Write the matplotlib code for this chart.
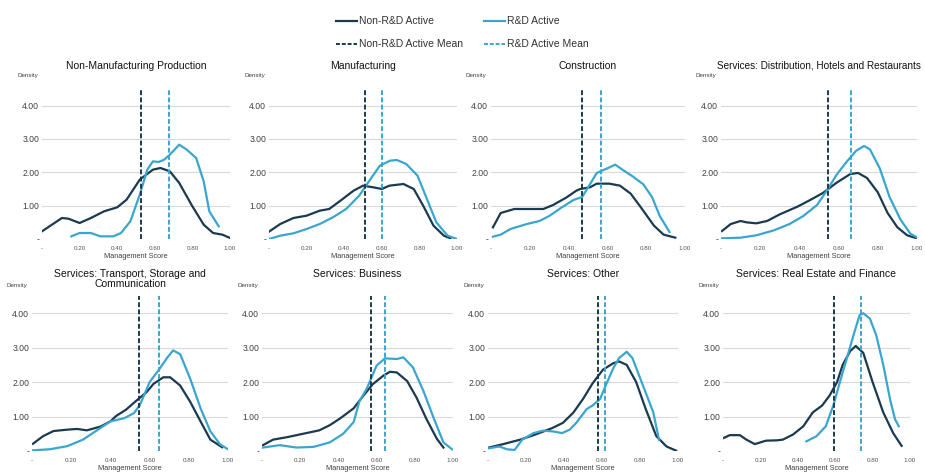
import matplotlib
matplotlib.use("Agg")
import matplotlib.pyplot as plt
from matplotlib.lines import Line2D

plt.rcParams['font.family'] = ['Liberation Sans', 'DejaVu Sans']

DARK = "#1b3a4f"
LIGHT = "#3aa6cf"

titles = [
    "Non-Manufacturing Production",
    "Manufacturing",
    "Construction",
    "Services: Distribution, Hotels and Restaurants",
    "Services: Transport, Storage and\nCommunication",
    "Services: Business",
    "Services: Other",
    "Services: Real Estate and Finance",
]

# Non-R&D active density curves (x, y)
nonrd_x = [
    [0, 0.106, 0.14, 0.2, 0.26, 0.33, 0.4, 0.45, 0.52, 0.59, 0.63, 0.68, 0.73, 0.8, 0.86, 0.91, 0.96, 1.0],
    [0, 0.06, 0.13, 0.2, 0.27, 0.32, 0.38, 0.45, 0.5, 0.555, 0.6, 0.64, 0.715, 0.77, 0.82, 0.875, 0.93, 0.965],
    [0.01, 0.05, 0.12, 0.185, 0.27, 0.32, 0.39, 0.44, 0.46, 0.51, 0.545, 0.61, 0.665, 0.72, 0.77, 0.84, 0.89, 0.95],
    [0.005, 0.05, 0.1, 0.13, 0.18, 0.235, 0.3, 0.39, 0.455, 0.52, 0.59, 0.66, 0.7, 0.745, 0.8, 0.85, 0.9, 0.95, 1.0],
    [0.005, 0.056, 0.11, 0.18, 0.23, 0.28, 0.35, 0.4, 0.43, 0.48, 0.53, 0.585, 0.62, 0.67, 0.705, 0.756, 0.807, 0.86, 0.91, 0.97],
    [0.005, 0.058, 0.13, 0.215, 0.3, 0.355, 0.41, 0.48, 0.53, 0.58, 0.636, 0.67, 0.706, 0.76, 0.81, 0.86, 0.916, 0.95],
    [0.005, 0.08, 0.17, 0.25, 0.34, 0.395, 0.45, 0.5, 0.55, 0.605, 0.66, 0.69, 0.73, 0.78, 0.83, 0.886, 0.94, 0.99],
    [0.005, 0.036, 0.09, 0.125, 0.17, 0.23, 0.29, 0.32, 0.375, 0.43, 0.48, 0.53, 0.57, 0.61, 0.64, 0.68, 0.71, 0.75, 0.8, 0.857, 0.91, 0.955],
]
nonrd_y = [
    [0.23, 0.63, 0.61, 0.48, 0.63, 0.83, 0.95, 1.18, 1.78, 2.08, 2.13, 2.03, 1.68, 0.98, 0.43, 0.18, 0.13, 0.03],
    [0.22, 0.45, 0.63, 0.70, 0.85, 0.90, 1.15, 1.45, 1.60, 1.55, 1.50, 1.60, 1.65, 1.50, 1.00, 0.40, 0.10, 0.02],
    [0.35, 0.78, 0.90, 0.90, 0.90, 1.02, 1.25, 1.45, 1.50, 1.55, 1.66, 1.66, 1.60, 1.36, 0.97, 0.40, 0.13, 0.04],
    [0.24, 0.45, 0.54, 0.50, 0.47, 0.54, 0.74, 0.97, 1.17, 1.38, 1.69, 1.95, 1.98, 1.83, 1.40, 0.78, 0.35, 0.11, 0.02],
    [0.21, 0.43, 0.58, 0.62, 0.64, 0.60, 0.71, 0.86, 1.02, 1.20, 1.45, 1.71, 1.95, 2.14, 2.14, 1.90, 1.43, 0.86, 0.33, 0.11],
    [0.17, 0.33, 0.40, 0.50, 0.60, 0.75, 0.95, 1.24, 1.60, 1.94, 2.19, 2.30, 2.28, 2.03, 1.54, 0.94, 0.35, 0.10],
    [0.10, 0.20, 0.33, 0.48, 0.67, 0.82, 1.12, 1.51, 1.96, 2.36, 2.55, 2.60, 2.50, 2.00, 1.22, 0.43, 0.13, 0.01],
    [0.38, 0.46, 0.46, 0.33, 0.20, 0.30, 0.31, 0.33, 0.48, 0.72, 1.12, 1.32, 1.61, 2.00, 2.50, 2.90, 3.05, 2.85, 2.00, 1.12, 0.52, 0.15],
]

# R&D active density curves (x, y)
rd_x = [
    [0.156, 0.2, 0.26, 0.31, 0.38, 0.42, 0.47, 0.52, 0.56, 0.59, 0.62, 0.65, 0.68, 0.73, 0.77, 0.82, 0.86, 0.89, 0.94],
    [0, 0.06, 0.13, 0.2, 0.27, 0.34, 0.41, 0.48, 0.54, 0.59, 0.644, 0.68, 0.73, 0.79, 0.84, 0.89, 0.95, 1.0],
    [0.01, 0.05, 0.1, 0.185, 0.25, 0.3, 0.36, 0.425, 0.47, 0.51, 0.545, 0.6, 0.64, 0.68, 0.73, 0.785, 0.83, 0.87, 0.92],
    [0.005, 0.1, 0.18, 0.27, 0.35, 0.42, 0.49, 0.54, 0.59, 0.64, 0.69, 0.73, 0.76, 0.81, 0.86, 0.915, 0.966, 1.0],
    [0.005, 0.09, 0.18, 0.26, 0.35, 0.4, 0.47, 0.52, 0.55, 0.6, 0.65, 0.69, 0.72, 0.756, 0.807, 0.86, 0.91, 0.96, 1.0],
    [0.005, 0.093, 0.18, 0.27, 0.355, 0.425, 0.48, 0.51, 0.55, 0.6, 0.644, 0.706, 0.74, 0.79, 0.846, 0.9, 0.95, 0.995],
    [0.005, 0.06, 0.1, 0.14, 0.18, 0.24, 0.29, 0.34, 0.39, 0.43, 0.465, 0.52, 0.55, 0.59, 0.62, 0.66, 0.69, 0.73, 0.76, 0.815, 0.87, 0.9],
    [0.446, 0.5, 0.55, 0.59, 0.625, 0.66, 0.7, 0.73, 0.75, 0.786, 0.82, 0.857, 0.893, 0.92, 0.94],
]
rd_y = [
    [0.08, 0.18, 0.18, 0.08, 0.08, 0.18, 0.53, 1.33, 2.08, 2.33, 2.31, 2.38, 2.53, 2.83, 2.68, 2.43, 1.73, 0.83, 0.38],
    [0.00, 0.10, 0.17, 0.30, 0.45, 0.65, 0.90, 1.30, 1.80, 2.20, 2.35, 2.37, 2.25, 1.90, 1.20, 0.50, 0.10, 0.00],
    [0.07, 0.13, 0.30, 0.45, 0.54, 0.69, 0.93, 1.17, 1.26, 1.64, 1.98, 2.12, 2.23, 2.07, 1.88, 1.64, 1.26, 0.69, 0.21],
    [0.02, 0.04, 0.11, 0.26, 0.45, 0.69, 1.02, 1.45, 1.93, 2.31, 2.65, 2.79, 2.69, 2.12, 1.26, 0.59, 0.16, 0.05],
    [0.02, 0.05, 0.14, 0.33, 0.67, 0.86, 0.95, 1.10, 1.33, 2.00, 2.38, 2.71, 2.92, 2.81, 2.10, 1.24, 0.57, 0.19, 0.05],
    [0.10, 0.17, 0.10, 0.12, 0.25, 0.50, 0.84, 1.44, 1.83, 2.48, 2.69, 2.67, 2.72, 2.43, 1.73, 0.94, 0.25, 0.05],
    [0.08, 0.13, 0.05, 0.03, 0.33, 0.52, 0.59, 0.57, 0.52, 0.62, 0.82, 1.22, 1.32, 1.51, 1.91, 2.41, 2.70, 2.88, 2.70, 1.91, 1.12, 0.33],
    [0.28, 0.43, 0.72, 1.32, 2.00, 2.65, 3.40, 3.94, 4.00, 3.84, 3.35, 2.50, 1.51, 0.92, 0.72],
]

nonrd_mean = [0.526, 0.509, 0.468, 0.546, 0.548, 0.571, 0.577, 0.593]
rd_mean = [0.678, 0.600, 0.566, 0.665, 0.647, 0.646, 0.616, 0.739]

y_ticks = [0, 1, 2, 3, 4]
y_ticklabels = ["-", "1.00", "2.00", "3.00", "4.00"]
x_ticks = [0, 0.2, 0.4, 0.6, 0.8, 1.0]
x_ticklabels = ["-", "0.20", "0.40", "0.60", "0.80", "1.00"]

W, H = 925, 472
fig = plt.figure(figsize=(W / 100, H / 100), dpi=100)

# pixel boxes: (x_left, x_right) per panel, row (y_zero, y_top)
xboxes = [(42, 230), (269, 457), (491, 685), (721, 917),
          (32, 228), (262, 453), (488, 678), (723, 910)]
rows = [(239, 89), (451, 296)]
title_top = [61, 269]

for i in range(8):
    xl, xr = xboxes[i]
    y0, yt = rows[i // 4]
    ax = fig.add_axes([xl / W, (H - y0) / H, (xr - xl) / W, (y0 - yt) / H])
    ax.set_xlim(0, 1.0)
    ax.set_ylim(0, 4.5)
    for s in ax.spines.values():
        s.set_visible(False)
    ax.set_yticks(y_ticks)
    ax.set_yticklabels(y_ticklabels, fontsize=6.2, color="#404040")
    ax.set_xticks(x_ticks)
    ax.set_xticklabels(x_ticklabels, fontsize=4.5, color="#555555")
    ax.tick_params(length=0, pad=5)
    ax.tick_params(axis="y", pad=2)
    for yv in y_ticks[1:]:
        ax.axhline(yv, color="#d9d9d9", lw=0.8, zorder=0)
    ax.plot(nonrd_x[i], nonrd_y[i], color=DARK, lw=1.6, zorder=3)
    ax.plot(rd_x[i], rd_y[i], color=LIGHT, lw=1.6, zorder=3)
    ax.plot([nonrd_mean[i]] * 2, [0, 4.5], color=DARK, lw=1.4, ls=(0, (2.5, 1.2)), zorder=4)
    ax.plot([rd_mean[i]] * 2, [0, 4.5], color=LIGHT, lw=1.4, ls=(0, (2.5, 1.2)), zorder=4)
    fsz = 7.2 if i == 3 else 7.5
    fig.text((xl + xr) / 2 / W, 1 - title_top[i // 4] / H, titles[i], ha="center", va="top",
             fontsize=fsz, color="#111111", linespacing=1.05)
    ax.set_xlabel("Management Score", fontsize=5.3, color="#404040", labelpad=1.5)
    ax.text(-0.13, 1.09 if i < 4 else 1.07, "Density", transform=ax.transAxes,
            fontsize=4.5, color="#404040", ha="left", va="center")

handles = [
    Line2D([], [], color=DARK, lw=1.6),
    Line2D([], [], color=DARK, lw=1.4, ls=(0, (2, 1))),
    Line2D([], [], color=LIGHT, lw=1.6),
    Line2D([], [], color=LIGHT, lw=1.4, ls=(0, (2, 1))),
]
labels = ["Non-R&D Active", "Non-R&D Active Mean", "R&D Active", "R&D Active Mean"]
fig.legend(handles, labels, ncol=2, loc="upper center", bbox_to_anchor=(0.5, 0.985),
           frameon=False, fontsize=7.5, handlelength=2.0, handletextpad=0.2,
           columnspacing=2.0, labelspacing=1.25, labelcolor="#333333")

fig.savefig("out.png", dpi=100, facecolor="white")
